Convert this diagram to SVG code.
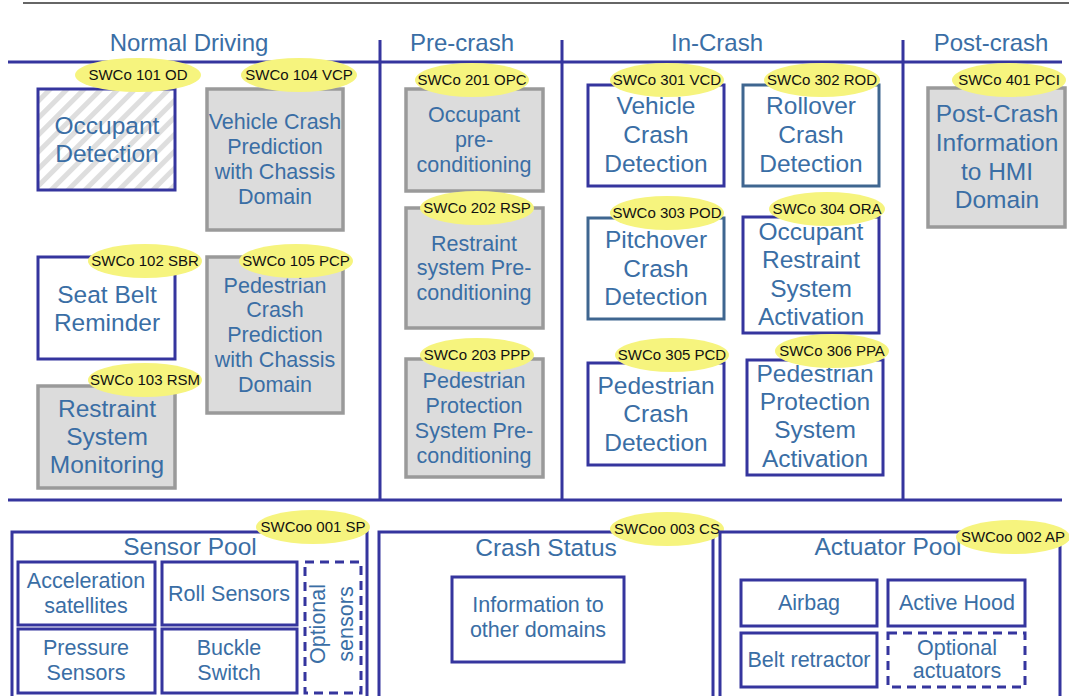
<svg xmlns="http://www.w3.org/2000/svg" width="1069" height="696" viewBox="0 0 1069 696">
<style>
text{font-family:"Liberation Sans",Arial,sans-serif;text-anchor:middle}
.hd{font-size:24px;fill:#3a6ea5}
.t25{font-size:24.5px;fill:#3a6ea5}
.t22{font-size:21.5px;fill:#3a6ea5}
.lb{font-size:15px;fill:#111}
.ln{stroke:#35359e;stroke-width:3;fill:none}
.bb{stroke:#35359e;stroke-width:3;fill:#fff}
.sb{stroke:#3f6690;stroke-width:3;fill:#fff}
.gb{stroke:#9a9a9a;stroke-width:3.5;fill:#dcdcdc}
.db{stroke:#35359e;stroke-width:3;fill:#fff;stroke-dasharray:9 6}
.el{fill:#f6f47e}
</style>
<defs>
<pattern id="hatch" width="12" height="12" patternUnits="userSpaceOnUse" patternTransform="rotate(45)">
<rect width="12" height="12" fill="#fff"/><rect width="5" height="12" fill="#dedede"/>
</pattern>
</defs>
<rect width="1069" height="696" fill="#fff"/>
<g id="frame">
<line x1="23" y1="3" x2="1069" y2="3" stroke="#666" stroke-width="2"/>
<line class="ln" x1="8" y1="62" x2="1062" y2="62"/>
<line class="ln" x1="8" y1="500" x2="1062" y2="500"/>
<line class="ln" x1="380" y1="40" x2="380" y2="500"/>
<line class="ln" x1="562" y1="40" x2="562" y2="500"/>
<line class="ln" x1="903" y1="40" x2="903" y2="500"/>
<text class="hd" x="189" y="51">Normal Driving</text>
<text class="hd" x="462" y="51">Pre-crash</text>
<text class="hd" x="717" y="51">In-Crash</text>
<text class="hd" x="991" y="51">Post-crash</text>
</g>
<g id="connectors"></g>
<g id="swc101">
<rect x="38" y="89" width="137" height="101" fill="url(#hatch)" stroke="#35359e" stroke-width="3"/>
<text class="t25" x="107" y="134">Occupant</text><text class="t25" x="107" y="162">Detection</text>
<ellipse class="el" cx="138" cy="75" rx="63" ry="17"/><text class="lb" x="138" y="80">SWCo 101 OD</text>
</g>
<g id="swc104">
<rect class="gb" x="207" y="89" width="136" height="141"/>
<text class="t22" x="275" y="129">Vehicle Crash</text><text class="t22" x="275" y="154">Prediction</text><text class="t22" x="275" y="179">with Chassis</text><text class="t22" x="275" y="204">Domain</text>
<ellipse class="el" cx="299" cy="75" rx="58" ry="17"/><text class="lb" x="299" y="80">SWCo 104 VCP</text>
</g>
<g id="swc102">
<rect class="bb" x="38" y="257" width="137" height="102"/>
<text class="t25" x="107" y="303">Seat Belt</text><text class="t25" x="107" y="331">Reminder</text>
<ellipse class="el" cx="145" cy="261" rx="57" ry="17"/><text class="lb" x="145" y="266">SWCo 102 SBR</text>
</g>
<g id="swc103">
<rect class="gb" x="38" y="386" width="137" height="102"/>
<text class="t25" x="107" y="417">Restraint</text><text class="t25" x="107" y="445">System</text><text class="t25" x="107" y="473">Monitoring</text>
<ellipse class="el" cx="145" cy="380" rx="57" ry="17"/><text class="lb" x="145" y="385">SWCo 103 RSM</text>
</g>
<g id="swc105">
<rect class="gb" x="207" y="257" width="136" height="156"/>
<text class="t22" x="275" y="293">Pedestrian</text><text class="t22" x="275" y="317">Crash</text><text class="t22" x="275" y="342">Prediction</text><text class="t22" x="275" y="367">with Chassis</text><text class="t22" x="275" y="392">Domain</text>
<ellipse class="el" cx="296" cy="261" rx="57" ry="17"/><text class="lb" x="296" y="266">SWCo 105 PCP</text>
</g>
<g id="swc201">
<rect class="gb" x="406" y="89" width="137" height="102"/>
<text class="t22" x="474" y="122">Occupant</text><text class="t22" x="474" y="147">pre-</text><text class="t22" x="474" y="172">conditioning</text>
<ellipse class="el" cx="472" cy="80" rx="57" ry="17"/><text class="lb" x="472" y="85">SWCo 201 OPC</text>
</g>
<g id="swc202">
<rect class="gb" x="406" y="208" width="137" height="120"/>
<text class="t22" x="474" y="251">Restraint</text><text class="t22" x="474" y="275">system Pre-</text><text class="t22" x="474" y="300">conditioning</text>
<ellipse class="el" cx="477" cy="208" rx="57" ry="17"/><text class="lb" x="477" y="213">SWCo 202 RSP</text>
</g>
<g id="swc203">
<rect class="gb" x="406" y="359" width="137" height="118"/>
<text class="t22" x="474" y="388">Pedestrian</text><text class="t22" x="474" y="413">Protection</text><text class="t22" x="474" y="438">System Pre-</text><text class="t22" x="474" y="463">conditioning</text>
<ellipse class="el" cx="477" cy="355" rx="57" ry="17"/><text class="lb" x="477" y="360">SWCo 203 PPP</text>
</g>
<g id="swc301">
<rect class="bb" x="588" y="85" width="136" height="101"/>
<text class="t25" x="656" y="114">Vehicle</text><text class="t25" x="656" y="143">Crash</text><text class="t25" x="656" y="172">Detection</text>
<ellipse class="el" cx="667" cy="80" rx="57" ry="17"/><text class="lb" x="667" y="85">SWCo 301 VCD</text>
</g>
<g id="swc302">
<rect class="sb" x="743" y="85" width="136" height="101"/>
<text class="t25" x="811" y="114">Rollover</text><text class="t25" x="811" y="143">Crash</text><text class="t25" x="811" y="172">Detection</text>
<ellipse class="el" cx="822" cy="80" rx="58" ry="17"/><text class="lb" x="822" y="85">SWCo 302 ROD</text>
</g>
<g id="swc303">
<rect class="sb" x="588" y="218" width="136" height="101"/>
<text class="t25" x="656" y="248">Pitchover</text><text class="t25" x="656" y="277">Crash</text><text class="t25" x="656" y="305">Detection</text>
<ellipse class="el" cx="667" cy="213" rx="57" ry="17"/><text class="lb" x="667" y="218">SWCo 303 POD</text>
</g>
<g id="swc304">
<rect class="bb" x="743" y="217" width="136" height="116"/>
<text class="t25" x="811" y="240">Occupant</text><text class="t25" x="811" y="268">Restraint</text><text class="t25" x="811" y="297">System</text><text class="t25" x="811" y="325">Activation</text>
<ellipse class="el" cx="827" cy="209" rx="58" ry="17"/><text class="lb" x="827" y="214">SWCo 304 ORA</text>
</g>
<g id="swc305">
<rect class="bb" x="588" y="363" width="136" height="102"/>
<text class="t25" x="656" y="394">Pedestrian</text><text class="t25" x="656" y="422">Crash</text><text class="t25" x="656" y="451">Detection</text>
<ellipse class="el" cx="672" cy="355" rx="57" ry="17"/><text class="lb" x="672" y="360">SWCo 305 PCD</text>
</g>
<g id="swc306">
<rect class="bb" x="747" y="360" width="136" height="115"/>
<text class="t25" x="815" y="382">Pedestrian</text><text class="t25" x="815" y="410">Protection</text><text class="t25" x="815" y="438">System</text><text class="t25" x="815" y="467">Activation</text>
<ellipse class="el" cx="832" cy="351" rx="57" ry="17"/><text class="lb" x="832" y="356">SWCo 306 PPA</text>
</g>
<g id="swc401">
<rect class="gb" x="928" y="88" width="137" height="139"/>
<text class="t25" x="997" y="122">Post-Crash</text><text class="t25" x="997" y="151">Information</text><text class="t25" x="997" y="180">to HMI</text><text class="t25" x="997" y="208">Domain</text>
<ellipse class="el" cx="1009" cy="80" rx="57" ry="17"/><text class="lb" x="1009" y="85">SWCo 401 PCI</text>
</g>
<g id="sensorpool">
<rect class="bb" x="12" y="532" width="355" height="170"/>
<text class="t25" x="190" y="555">Sensor Pool</text>
<rect class="bb" x="18" y="562" width="137" height="63"/>
<text class="t22" x="86" y="588">Acceleration</text><text class="t22" x="86" y="613">satellites</text>
<rect class="bb" x="162" y="562" width="135" height="63"/>
<text class="t22" x="229" y="601">Roll Sensors</text>
<rect class="bb" x="18" y="629" width="137" height="64"/>
<text class="t22" x="86" y="655">Pressure</text><text class="t22" x="86" y="680">Sensors</text>
<rect class="bb" x="162" y="629" width="135" height="64"/>
<text class="t22" x="229" y="655">Buckle</text><text class="t22" x="229" y="680">Switch</text>
<rect class="db" x="305" y="562" width="56" height="131"/>
<text class="t22" transform="translate(325,624) rotate(-90)">Optional</text>
<text class="t22" transform="translate(353,624) rotate(-90)">sensors</text>
<ellipse class="el" cx="313" cy="527" rx="57" ry="17"/><text class="lb" x="313" y="532">SWCoo 001 SP</text>
</g>
<g id="crashstatus">
<rect class="bb" x="379" y="532" width="334" height="170"/>
<text class="t25" x="546" y="556">Crash Status</text>
<rect class="bb" x="452" y="577" width="172" height="85"/>
<text class="t22" x="538" y="612">Information to</text><text class="t22" x="538" y="637">other domains</text>
<ellipse class="el" cx="667" cy="529" rx="57" ry="17"/><text class="lb" x="667" y="534">SWCoo 003 CS</text>
</g>
<g id="actuatorpool">
<rect class="bb" x="720" y="532" width="340" height="170"/>
<text class="t25" x="888" y="555">Actuator Pool</text>
<rect class="bb" x="741" y="580" width="136" height="46"/>
<text class="t22" x="809" y="610">Airbag</text>
<rect class="bb" x="888" y="580" width="137" height="46"/>
<text class="t22" x="957" y="610">Active Hood</text>
<rect class="bb" x="741" y="633" width="136" height="54"/>
<text class="t22" x="809" y="667">Belt retractor</text>
<rect class="db" x="888" y="633" width="137" height="54"/>
<text class="t22" x="957" y="655">Optional</text><text class="t22" x="957" y="678">actuators</text>
<ellipse class="el" cx="1013" cy="537" rx="57" ry="17"/><text class="lb" x="1013" y="542">SWCoo 002 AP</text>
</g>
</svg>
